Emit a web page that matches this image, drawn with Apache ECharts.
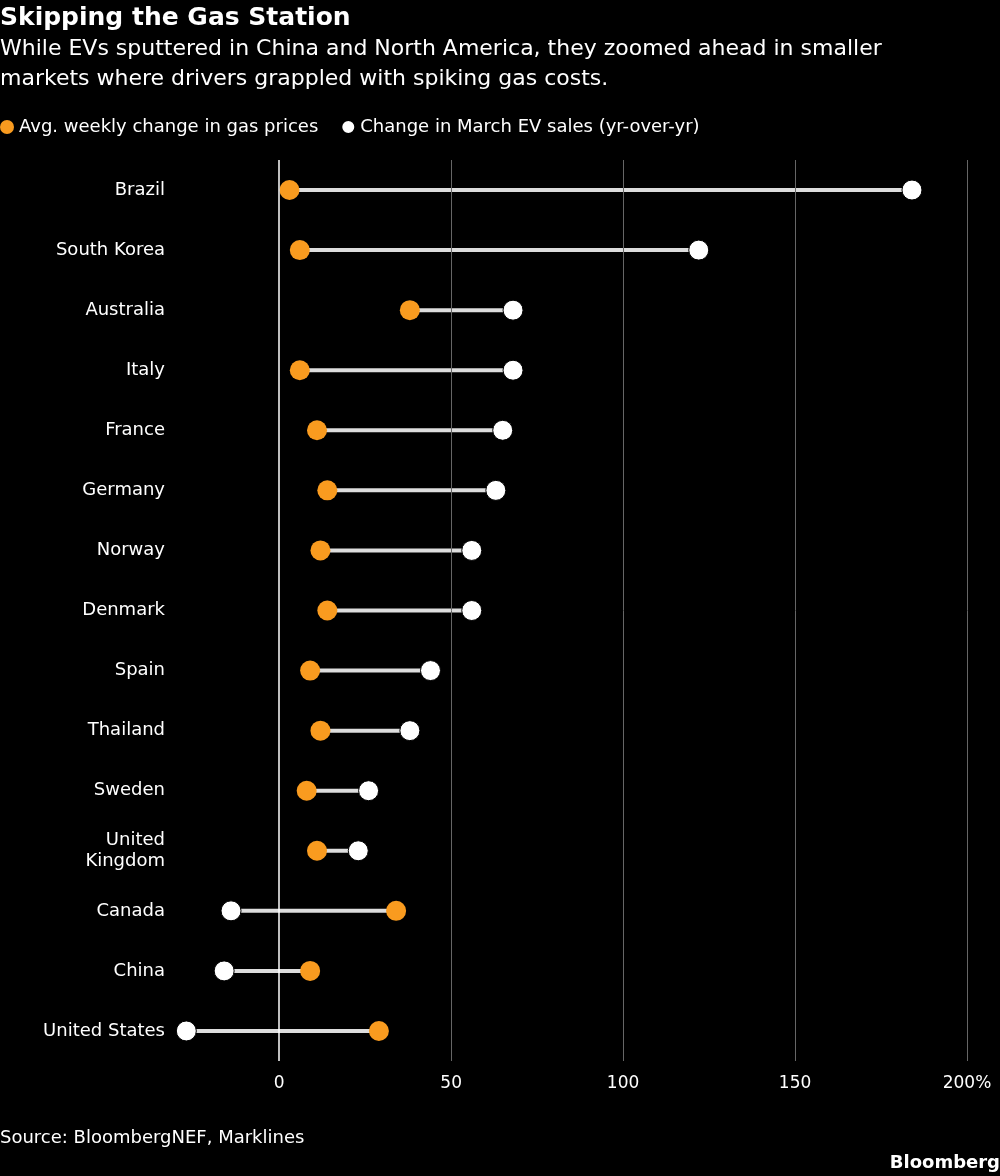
<!DOCTYPE html>
<html><head><meta charset="utf-8">
<script src="https://cdn.jsdelivr.net/npm/echarts@6/dist/echarts.min.js"></script>
<style>html,body{margin:0;background:#000}#c{width:1000px;height:1176px}</style>
</head><body><div id="c"></div>
<script>
const countries = ["Brazil","South Korea","Australia","Italy","France","Germany","Norway","Denmark","Spain","Thailand","Sweden","United\nKingdom","Canada","China","United States"];
const gasChange = [3,6,38,6,11,14,12,14,9,12,8,11,34,9,29];
const evChange = [184,122,68,68,65,63,56,56,44,38,26,23,-14,-16,-27];
const xTicks = [0,50,100,150,200];
const gridValues = [50,100,150,200];

const F = "DejaVu Sans";
const chart = echarts.init(document.getElementById('c'));
chart.setOption({
  backgroundColor:'#000',
  animation:false,
  textStyle:{fontFamily:F},
  title:[
    {text:'Skipping the Gas Station',left:0,top:6,padding:0,textStyle:{color:'#fff',fontSize:25,fontWeight:'bold',fontFamily:F}},
    {text:'While EVs sputtered in China and North America, they zoomed ahead in smaller\nmarkets where drivers grappled with spiking gas costs.',left:0,top:34,padding:0,textStyle:{color:'#fff',fontSize:22,fontWeight:'normal',lineHeight:30,fontFamily:F}},
    {text:'Source: BloombergNEF, Marklines',left:0,top:1129,padding:0,textStyle:{color:'#fff',fontSize:18,fontWeight:'normal',fontFamily:F}},
    {text:'Bloomberg',right:0,top:1154,padding:0,textStyle:{color:'#fff',fontSize:18,fontWeight:'bold',fontFamily:F}}
  ],
  legend:{left:0,top:118,padding:0,itemWidth:14,itemHeight:14,itemGap:22,icon:'circle',
    textStyle:{color:'#fff',fontSize:18,fontFamily:F},
    data:['Avg. weekly change in gas prices','Change in March EV sales (yr-over-yr)']},
  grid:{left:176,right:33,top:160,height:901},
  xAxis:{type:'value',min:-30,max:200,position:'bottom',
    axisLine:{show:false},axisTick:{show:false},
    splitLine:{show:false},
    axisLabel:{color:'#fff',fontSize:17,margin:14,fontFamily:F,
      customValues:xTicks,formatter:v=>v===200?'200%':String(v)}},
  yAxis:{type:'category',inverse:true,data:countries,
    axisLine:{show:false},axisTick:{show:false},
    axisLabel:{color:'#fff',fontSize:18,margin:11,lineHeight:21,fontFamily:F}},
  series:[
    {type:'custom',z:1,silent:true,
     data:countries.map((c,i)=>[i,gasChange[i],evChange[i]]),
     renderItem:(p,api)=>{
       const a=api.coord([api.value(1),api.value(0)]), b=api.coord([api.value(2),api.value(0)]);
       return {type:'line',shape:{x1:a[0],y1:a[1],x2:b[0],y2:b[1]},style:{stroke:'#ddd',lineWidth:4}};
     },
     markLine:{silent:true,symbol:'none',label:{show:false},lineStyle:{color:'#666',width:1,type:'solid'},
       data:gridValues.map(v=>({xAxis:v})).concat([{xAxis:0,lineStyle:{color:'#fff',width:1.5}}])}
    },
    {name:'Avg. weekly change in gas prices',type:'scatter',z:3,symbolSize:20,
     itemStyle:{color:'#f99b1f',opacity:1},data:countries.map((c,i)=>[gasChange[i],c])},
    {name:'Change in March EV sales (yr-over-yr)',type:'scatter',z:3,symbolSize:20,
     itemStyle:{color:'#fff',borderColor:'#000',borderWidth:1,opacity:1},data:countries.map((c,i)=>[evChange[i],c])}
  ]
});
</script></body></html>
